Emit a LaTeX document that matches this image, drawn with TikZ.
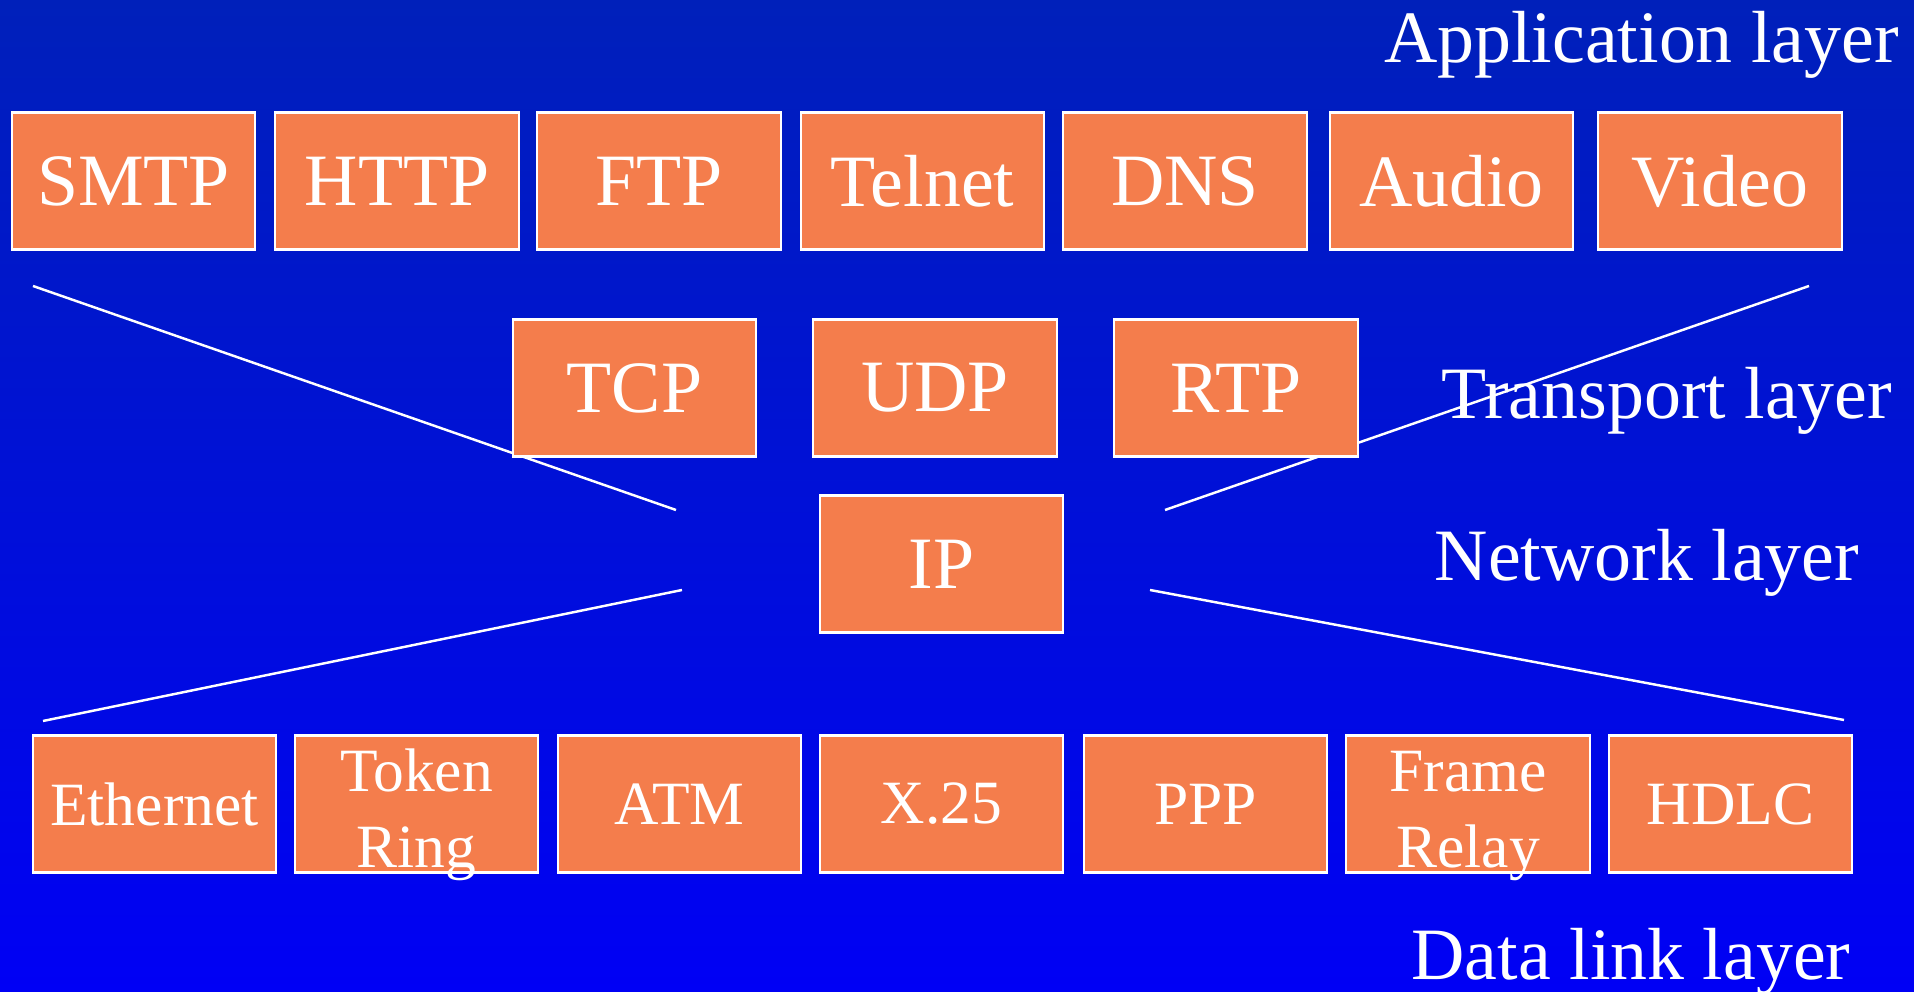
\documentclass[tikz,border=0pt]{standalone}
\usepackage{fontspec}
\setmainfont{Liberation Serif}

\definecolor{bgtop}{RGB}{0,32,186}
\definecolor{bgbot}{RGB}{0,0,245}
\definecolor{boxorange}{RGB}{244,125,76}

% two lines of text that may run over the box
\newcommand{\stacklabel}[2]{\raisebox{-18pt}[0pt][0pt]{\begin{tabular}[b]{@{}c@{}}#1\\#2\end{tabular}}}

\tikzset{
    proto/.style={draw=white, line width=0.6pt, fill=boxorange, text=white,
        minimum width=2.43cm, minimum height=1.37cm, inner sep=0pt,
        font=\fontsize{21}{25}\selectfont},
    linkproto/.style={proto, font=\fontsize{17.5}{21.5}\selectfont},
    layerlabel/.style={text=white, anchor=base, inner sep=0pt,
        font=\fontsize{21}{25}\selectfont},
    xline/.style={white, line width=0.7pt}
}

\begin{document}
\begin{tikzpicture}[x=0.01cm, y=-0.01cm]
            \shade[top color=bgtop, bottom color=bgbot] (0, 0) rectangle (1914, 992);
            \useasboundingbox (0, 0) rectangle (1914, 992);

            % end points of the crossing lines
            \coordinate (tlout) at (33, 286);
            \coordinate (tlin) at (676, 510);
            \coordinate (trout) at (1809, 286);
            \coordinate (trin) at (1165, 510);
            \coordinate (blin) at (682, 590);
            \coordinate (blout) at (43, 721);
            \coordinate (brin) at (1150, 590);
            \coordinate (brout) at (1844, 720);

            \draw[xline] (tlout) -- (tlin);
            \draw[xline] (trout) -- (trin);
            \draw[xline] (blin) -- (blout);
            \draw[xline] (brin) -- (brout);

            % application layer
            \node[proto] (smtp) at (133.5, 181) {SMTP};
            \node[proto] (http) at (397, 181) {HTTP};
            \node[proto] (ftp) at (659, 181) {FTP};
            \node[proto] (telnet) at (922.5, 181) {Telnet};
            \node[proto] (dns) at (1185, 181) {DNS};
            \node[proto] (audio) at (1451.5, 181) {Audio};
            \node[proto] (video) at (1720, 181) {Video};

            % transport and network layer
            \node[proto] (tcp) at (634.5, 388) {TCP};
            \node[proto] (udp) at (935, 388) {UDP};
            \node[proto] (rtp) at (1236, 388) {RTP};
            \node[proto] (ip) at (941.5, 564) {IP};

            % data link layer
            \node[linkproto] (ethernet) at (154.5, 804) {Ethernet};
            \node[linkproto] (token) at (416.5, 804) {\stacklabel{Token}{Ring}};
            \node[linkproto] (atm) at (679.5, 804) {ATM};
            \node[linkproto] (x25) at (941.5, 804) {X.25};
            \node[linkproto] (ppp) at (1205.5, 804) {PPP};
            \node[linkproto] (frame) at (1468, 804) {\stacklabel{Frame}{Relay}};
            \node[linkproto] (hdlc) at (1730.5, 804) {HDLC};

            \node[layerlabel] (applabel) at (1641.5, 63) {Application layer};
            \node[layerlabel] (translabel) at (1667, 419) {Transport layer};
            \node[layerlabel] (netlabel) at (1647, 581) {Network layer};
            \node[layerlabel] (linklabel) at (1631, 980) {Data link layer};
\end{tikzpicture}
\end{document}
